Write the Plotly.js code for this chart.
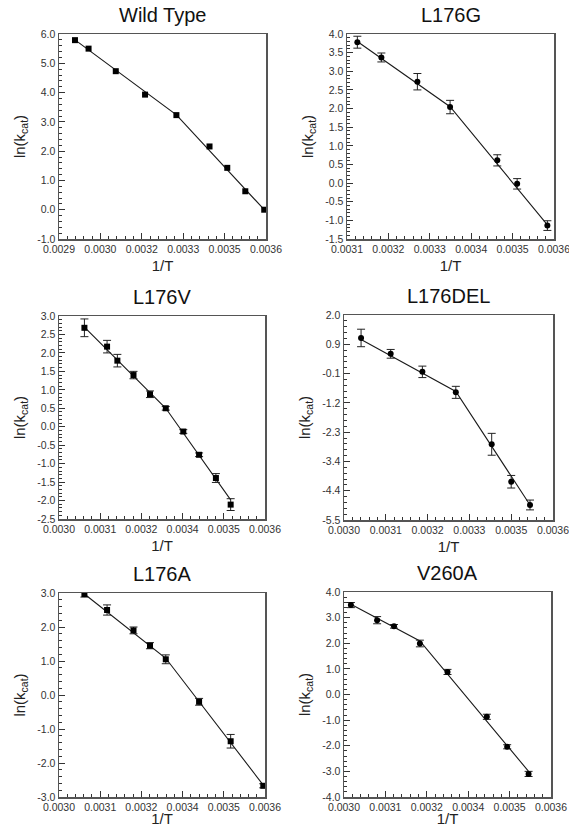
<!DOCTYPE html>
<html>
<head>
<meta charset="utf-8">
<script src="https://cdn.plot.ly/plotly-3.0.1.min.js"></script>
<style>html,body{margin:0;padding:0;background:#fff}#chart{width:569px;height:827px}</style>
</head>
<body>
<div id="chart"></div>
<script>
// ---------- Data ----------
const panelTitles = ["Wild Type", "L176G", "L176V", "L176DEL", "L176A", "V260A"];

// Wild Type
const wtX = [0.002954, 0.003000, 0.003092, 0.003191, 0.003297, 0.003409, 0.003469, 0.003530, 0.003594];
const wtY = [5.79, 5.50, 4.73, 3.93, 3.23, 2.16, 1.43, 0.63, 0.00];
const wtFitX = [0.002954, 0.003297, 0.003594];
const wtFitY = [5.80, 3.24, 0.00];

// L176G
const gX = [0.003125, 0.003183, 0.003270, 0.003349, 0.003463, 0.003511, 0.003584];
const gY = [3.78, 3.37, 2.72, 2.04, 0.61, -0.02, -1.14];
const gErr = [0.16, 0.12, 0.22, 0.18, 0.15, 0.14, 0.13];
const gFitX = [0.003125, 0.003349, 0.003584];
const gFitY = [3.80, 2.05, -1.12];

// L176V
const vX = [0.003074, 0.003140, 0.003170, 0.003217, 0.003265, 0.003311, 0.003362, 0.003408, 0.003457, 0.003500];
const vY = [2.68, 2.17, 1.79, 1.40, 0.88, 0.50, -0.13, -0.76, -1.39, -2.11];
const vErr = [0.24, 0.17, 0.17, 0.10, 0.09, 0.05, 0.05, 0.05, 0.12, 0.16];
const vFitX = [0.003074, 0.003311, 0.003500];
const vFitY = [2.70, 0.50, -1.98];

// L176DEL
const dX = [0.003029, 0.003114, 0.003205, 0.003301, 0.003404, 0.003460, 0.003514];
const dY = [1.16, 0.58, -0.08, -0.83, -2.73, -4.10, -4.95];
const dErr = [0.32, 0.16, 0.21, 0.22, 0.40, 0.23, 0.18];
const dFitX = [0.003029, 0.003301, 0.003514];
const dFitY = [1.10, -0.80, -4.95];

// L176A
const aX = [0.003074, 0.003140, 0.003217, 0.003265, 0.003311, 0.003408, 0.003500, 0.003595];
const aY = [2.97, 2.50, 1.90, 1.45, 1.05, -0.20, -1.36, -2.67];
const aErr = [0.09, 0.15, 0.10, 0.09, 0.13, 0.10, 0.20, 0.06];
const aFitX = [0.003074, 0.003311, 0.003595];
const aFitY = [2.97, 1.08, -2.65];

// V260A
const v2X = [0.003020, 0.003096, 0.003145, 0.003220, 0.003300, 0.003414, 0.003473, 0.003535];
const v2Y = [3.49, 2.90, 2.66, 1.99, 0.88, -0.87, -2.04, -3.10];
const v2Err = [0.10, 0.14, 0.07, 0.13, 0.10, 0.10, 0.08, 0.10];
const v2FitX = [0.003020, 0.003220, 0.003535];
const v2FitY = [3.52, 2.09, -3.00];

// Tick labels
const xTicksWT = ["0.0029", "0.0030", "0.0032", "0.0033", "0.0035", "0.0036"];
const xTicksG = ["0.0031", "0.0032", "0.0033", "0.0034", "0.0035", "0.0036"];
const xTicksV = ["0.0030", "0.0031", "0.0032", "0.0034", "0.0035", "0.0036"];
const xTicksD = ["0.0030", "0.0031", "0.0032", "0.0033", "0.0035", "0.0036"];
const xTicksA = ["0.0030", "0.0031", "0.0032", "0.0034", "0.0035", "0.0036"];
const xTicksV2 = ["0.0030", "0.0031", "0.0032", "0.0034", "0.0035", "0.0036"];

const yTicksWT = ["-1.0", "0.0", "1.0", "2.0", "3.0", "4.0", "5.0", "6.0"];
const yTicksG = ["-1.5", "-1.0", "-0.5", "0.0", "0.5", "1.0", "1.5", "2.0", "2.5", "3.0", "3.5", "4.0"];
const yTicksV = ["-2.5", "-2.0", "-1.5", "-1.0", "-0.5", "0.0", "0.5", "1.0", "1.5", "2.0", "2.5", "3.0"];
const yTicksD = ["-5.5", "-4.4", "-3.4", "-2.3", "-1.2", "-0.1", "0.9", "2.0"];
const yTicksA = ["-3.0", "-2.0", "-1.0", "0.0", "1.0", "2.0", "3.0"];
const yTicksV2 = ["-4.0", "-3.0", "-2.0", "-1.0", "0.0", "1.0", "2.0", "3.0", "4.0"];

// ---------- Layout config ----------
const W = 569, H = 827;
const panels = [
  {x: wtX, y: wtY, err: null, fx: wtFitX, fy: wtFitY, sym: "square", xr: [0.0029, 0.0036], yr: [-1, 6], xt: xTicksWT, yt: yTicksWT, box: [59, 266, 34, 239]},
  {x: gX, y: gY, err: gErr, fx: gFitX, fy: gFitY, sym: "circle", xr: [0.0031, 0.0036], yr: [-1.5, 4], xt: xTicksG, yt: yTicksG, box: [347, 554, 34, 239]},
  {x: vX, y: vY, err: vErr, fx: vFitX, fy: vFitY, sym: "square", xr: [0.0030, 0.0036], yr: [-2.5, 3], xt: xTicksV, yt: yTicksV, box: [59, 265, 316, 519]},
  {x: dX, y: dY, err: dErr, fx: dFitX, fy: dFitY, sym: "circle", xr: [0.00298, 0.00358], yr: [-5.5, 2], xt: xTicksD, yt: yTicksD, box: [344, 553, 315, 520]},
  {x: aX, y: aY, err: aErr, fx: aFitX, fy: aFitY, sym: "square", xr: [0.0030, 0.0036], yr: [-3, 3], xt: xTicksA, yt: yTicksA, box: [59, 265, 593, 797]},
  {x: v2X, y: v2Y, err: v2Err, fx: v2FitX, fy: v2FitY, sym: "circle", xr: [0.0030, 0.0036], yr: [-4, 4], xt: xTicksV2, yt: yTicksV2, box: [344, 551, 592, 797]}
];

function linspace(a, b, n) { const o = []; for (let i = 0; i < n; i++) o.push(a + (b - a) * i / (n - 1)); return o; }

const FONT = "Liberation Sans, Arial, sans-serif";
const TICKFONT = "Liberation Sans Narrow, Liberation Sans, Arial, sans-serif";
const traces = [];
const layout = {
  width: W, height: H,
  margin: {l: 0, r: 0, t: 0, b: 0},
  paper_bgcolor: "#fff", plot_bgcolor: "#fff",
  showlegend: false,
  font: {family: FONT, color: "#222"},
  annotations: []
};

panels.forEach((p, i) => {
  const n = i + 1;
  const xa = n === 1 ? "x" : "x" + n, ya = n === 1 ? "y" : "y" + n;
  const xk = n === 1 ? "xaxis" : "xaxis" + n, yk = n === 1 ? "yaxis" : "yaxis" + n;
  // fit line
  traces.push({x: p.fx, y: p.fy, xaxis: xa, yaxis: ya, mode: "lines", line: {color: "#1a1a1a", width: 1.1}, hoverinfo: "skip"});
  // points
  const t = {x: p.x, y: p.y, xaxis: xa, yaxis: ya, mode: "markers",
    marker: {symbol: p.sym, size: 6, color: "#000"}};
  if (p.err) t.error_y = {type: "data", array: p.err, visible: true, color: "#222", thickness: 1, width: 4};
  traces.push(t);

  const [l, r, tp, bt] = p.box;
  const xdom = [l / W, r / W], ydom = [1 - bt / H, 1 - tp / H];
  const xtv = linspace(p.xr[0], p.xr[1], p.xt.length);
  const ytv = linspace(p.yr[0], p.yr[1], p.yt.length);
  const common = {showline: true, linecolor: "#555", linewidth: 1.5, mirror: true, showgrid: false, zeroline: false,
    ticks: "inside", ticklen: 6, tickwidth: 1, tickcolor: "#333", tickmode: "array", ticklabeloverflow: "allow",
    tickfont: {family: TICKFONT, size: 10.5, color: "#333"}, fixedrange: true};
  layout[xk] = Object.assign({}, common, {domain: xdom, anchor: ya, range: p.xr, tickvals: xtv, ticktext: p.xt,
    minor: {ticks: "inside", ticklen: 3, tickwidth: 1, tickcolor: "#333", tick0: p.xr[0], dtick: (p.xr[1] - p.xr[0]) / ((p.xt.length - 1) * 5)},
    title: {text: "1/T", font: {family: FONT, size: 15, color: "#222"}, standoff: 6}});
  layout[yk] = Object.assign({}, common, {domain: ydom, anchor: xa, range: p.yr, tickvals: ytv, ticktext: p.yt,
    minor: {ticks: "inside", ticklen: 3, tickwidth: 1, tickcolor: "#333", tick0: p.yr[0], dtick: (p.yr[1] - p.yr[0]) / ((p.yt.length - 1) * 5)},
    title: {text: "ln(k<sub>cat</sub>)", font: {family: FONT, size: 15, color: "#222"}, standoff: 8}});
  layout.annotations.push({text: panelTitles[i], xref: "paper", yref: "paper", x: (xdom[0] + xdom[1]) / 2, y: ydom[1],
    yshift: 6, xanchor: "center", yanchor: "bottom", showarrow: false, font: {family: FONT, size: 20, weight: "normal", color: "#111"}});
});

Plotly.newPlot("chart", traces, layout, {staticPlot: true, displayModeBar: false});
</script>
</body>
</html>
